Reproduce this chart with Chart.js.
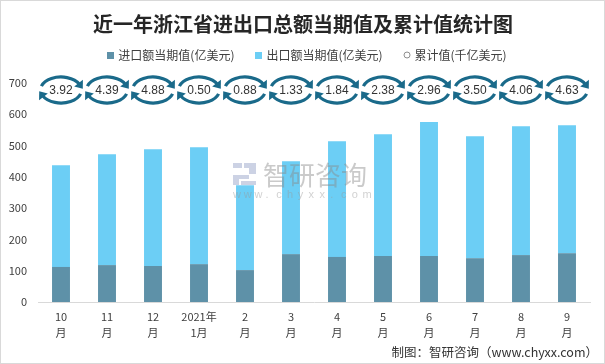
<!DOCTYPE html>
<html><head><meta charset="utf-8">
<script src="https://cdn.jsdelivr.net/npm/chart.js@4"></script>
<style>html,body{margin:0;padding:0;background:#fff}canvas{display:block}</style>
</head><body>
<canvas id="c" width="605" height="364"></canvas>
<script>
const categories = [['10','月'],['11','月'],['12','月'],['2021年','1月'],['2','月'],['3','月'],['4','月'],['5','月'],['6','月'],['7','月'],['8','月'],['9','月']];
const importValues = [112,118,115,121,102,153,144,147,147,140,150,156];
const exportValues = [325,354,373,374,271,297,370,389,428,390,412,409];
const cumulativeValues = [3.92,4.39,4.88,0.50,0.88,1.33,1.84,2.38,2.96,3.50,4.06,4.63];
const yTickValues = [0,100,200,300,400,500,600,700];
const seriesNames = ['进口额当期值(亿美元)','出口额当期值(亿美元)','累计值(千亿美元)'];
const titleText = '近一年浙江省进出口总额当期值及累计值统计图';
const footerText = '制图：智研咨询（www.chyxx.com）';

const IMPORT_COLOR = '#5E91A8';
const EXPORT_COLOR = '#6CCEF5';
const RING_COLOR = '#1A6A8A';
const FONT = '"Noto Sans CJK SC", "Noto Sans", sans-serif';

function sq(color){const c=document.createElement('canvas');c.width=7;c.height=7;const g=c.getContext('2d');g.fillStyle=color;g.fillRect(0,0,7,7);return c;}
function ring(){const c=document.createElement('canvas');c.width=8;c.height=8;const g=c.getContext('2d');g.strokeStyle='#8c8c8c';g.lineWidth=1;g.beginPath();g.arc(4,4,3,0,Math.PI*2);g.stroke();return c;}
const legendIcons = [sq(IMPORT_COLOR), sq(EXPORT_COLOR), ring()];

function arrowArc(ctx, rx, ry, t0, t1){
  ctx.beginPath();
  ctx.ellipse(0,0,rx,ry,0,t0,t1,false);
  ctx.stroke();
  const ex = rx*Math.cos(t1), ey = ry*Math.sin(t1);
  let tx = -rx*Math.sin(t1), ty = ry*Math.cos(t1);
  const L = Math.hypot(tx,ty); tx/=L; ty/=L;
  const nx = -ty, ny = tx;
  ctx.beginPath();
  ctx.moveTo(ex+tx*5.5, ey+ty*5.5);
  ctx.lineTo(ex+nx*5.5 - tx*1.5, ey+ny*5.5 - ty*1.5);
  ctx.lineTo(ex-nx*5.5 - tx*1.5, ey-ny*5.5 - ty*1.5);
  ctx.closePath();
  ctx.fill();
}

const decor = {
  id: 'decor',
  beforeInit(chart){
    const lg = chart.legend;
    const origFit = lg.fit;
    lg.fit = function(){ origFit.call(this); this.height = 57; };
    const origDraw = lg.draw;
    lg.draw = function(){ const c = this.ctx; c.save(); c.translate(13,0); origDraw.call(this); c.restore(); };
  },
  afterDatasetsDraw(chart){
    const {ctx, chartArea, scales:{x}} = chart;
    // watermark
    ctx.save();
    ctx.globalAlpha = 0.45;
    ctx.fillStyle = '#8e9cc4';
    ctx.fillRect(233,163,9,5); ctx.fillRect(244,163,12,5);
    ctx.fillRect(249,168,7,6); ctx.fillRect(233,175,16,4);
    ctx.fillRect(233,179,6,6); ctx.fillRect(241,181,15,4);
    ctx.fillStyle = '#8a8a8a';
    ctx.font = '26px ' + FONT;
    ctx.textAlign = 'left'; ctx.textBaseline = 'middle';
    ctx.fillText('智研咨询', 263, 175);
    ctx.font = '11px "Liberation Sans", sans-serif';
    ctx.fillStyle = '#999';
    const url = 'www.chyxx.com';
    for (let i=0;i<url.length;i++) ctx.fillText(url[i], 233 + i*10.8, 195);
    ctx.restore();
    // cumulative badges
    const ds = chart.data.datasets[2];
    const cy = chartArea.top + 7;
    ctx.save();
    ctx.lineWidth = 3.2;
    ds.data.forEach((v,i)=>{
      const cx = x.getPixelForValue(i);
      ctx.save(); ctx.translate(cx, cy);
      ctx.strokeStyle = RING_COLOR; ctx.fillStyle = RING_COLOR;
      arrowArc(ctx, 20.5, 13, Math.PI+0.3, 2*Math.PI-0.45);
      arrowArc(ctx, 20.5, 13, 0.3, Math.PI-0.45);
      ctx.fillStyle = '#333';
      ctx.font = '12px "Liberation Sans", sans-serif';
      ctx.textAlign = 'center'; ctx.textBaseline = 'middle';
      ctx.fillText(v.toFixed(2), 0, 1);
      ctx.restore();
    });
    ctx.restore();
  },
  afterDraw(chart){
    const ctx = chart.ctx;
    ctx.save();
    ctx.fillStyle = '#262626';
    ctx.font = 'bold 20px ' + FONT;
    ctx.textAlign = 'center'; ctx.textBaseline = 'middle';
    ctx.fillText(titleText, 303, 24);
    ctx.fillStyle = '#333';
    ctx.font = '12.5px ' + FONT;
    ctx.textAlign = 'right';
    ctx.fillText(footerText, 598, 352);
    ctx.strokeStyle = '#d9d9d9'; ctx.lineWidth = 1;
    ctx.strokeRect(0.5,0.5,604,363);
    ctx.restore();
  }
};

new Chart(document.getElementById('c'), {
  data: {
    labels: categories,
    datasets: [
      {type:'bar', label: seriesNames[0], data: importValues, backgroundColor: IMPORT_COLOR, stack:'s', barPercentage:0.39, categoryPercentage:1},
      {type:'bar', label: seriesNames[1], data: exportValues, backgroundColor: EXPORT_COLOR, stack:'s', barPercentage:0.39, categoryPercentage:1},
      {type:'line', label: seriesNames[2], data: cumulativeValues, yAxisID:'y2', showLine:false, pointRadius:0, pointHoverRadius:0}
    ]
  },
  options: {
    responsive: false,
    animation: false,
    layout: {padding: {top: 26, right: 15, left: 0, bottom: 0}},
    plugins: {
      title: {display:false},
      tooltip: {enabled:false},
      legend: {
        display: true,
        labels: {
          usePointStyle: true,
          boxWidth: 3, boxHeight: 7,
          padding: 23,
          color: '#404040',
          font: {size: 12, family: FONT},
          generateLabels: chart => chart.data.datasets.map((ds,i)=>({
            text: ds.label, pointStyle: legendIcons[i], fillStyle: 'transparent', strokeStyle:'transparent',
            lineWidth: 0, hidden: false, datasetIndex: i, fontColor: '#404040'
          }))
        }
      }
    },
    scales: {
      x: {
        stacked: true,
        grid: {display:false, drawTicks:false},
        border: {display:true, color:'#d9d9d9'},
        ticks: {color:'#404040', font:{size:11, family:FONT, lineHeight:'16px'}, padding:7, maxRotation:0, autoSkip:false},
        afterFit: s => { s.height = 62; }
      },
      y: {
        stacked: true,
        min: 0, max: 700,
        afterBuildTicks: s => { s.ticks = yTickValues.map(v=>({value:v})); },
        grid: {display:false, drawTicks:false},
        border: {display:false},
        ticks: {color:'#404040', font:{size:11, family:FONT}, padding:11},
        afterFit: s => { s.width = 38; }
      },
      y2: {display:false, min:0, max:10}
    }
  },
  plugins: [decor]
});
</script>
</body></html>
